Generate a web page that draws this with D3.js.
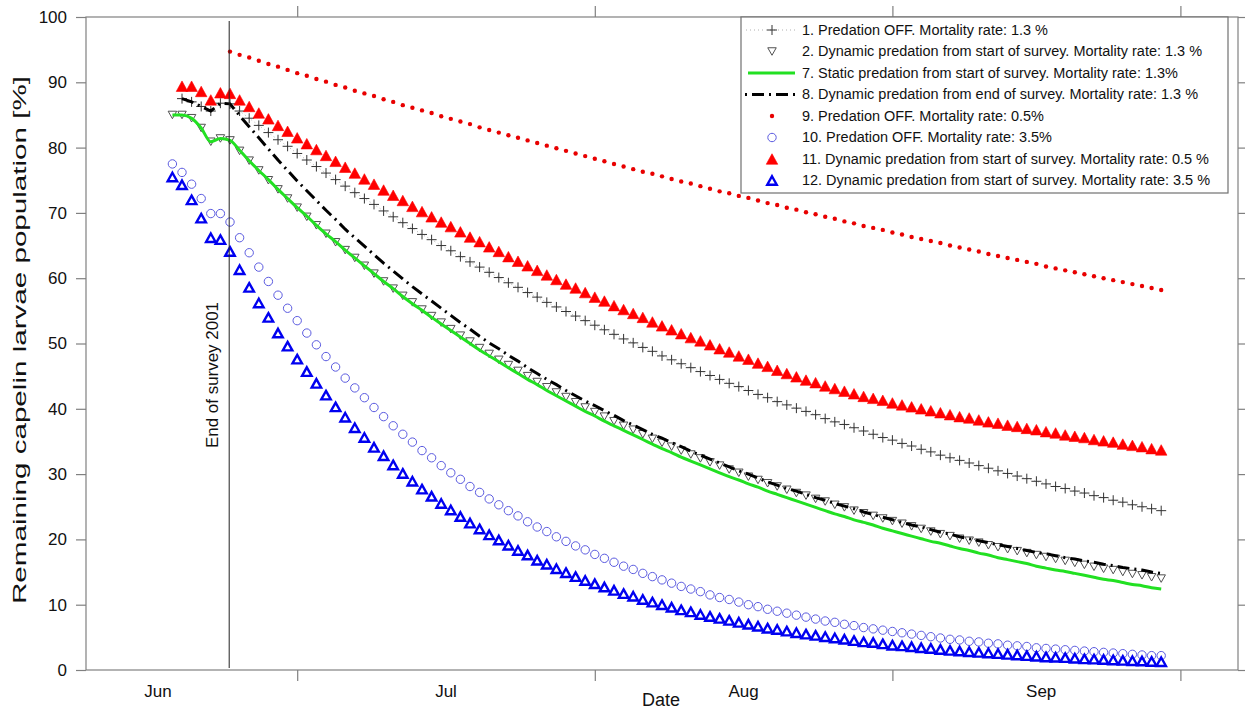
<!DOCTYPE html>
<html><head><meta charset="utf-8">
<script src="https://cdn.jsdelivr.net/npm/d3@7"></script>
<style>
body{margin:0;background:#fff}
svg{display:block}
text{font-family:"Liberation Sans",Arial,sans-serif;fill:#111}
</style>
</head><body>
<svg id="chart" width="1245" height="711"></svg>
<script>
// ---------------- DATA ----------------
const monthLabels = ["Jun", "Jul", "Aug", "Sep"];
const monthLabelDates = [Date.UTC(2001,5,16,12), Date.UTC(2001,6,16,12), Date.UTC(2001,7,16,12), Date.UTC(2001,8,16,12)];
const monthTickDates = [Date.UTC(2001,6,1), Date.UTC(2001,7,1), Date.UTC(2001,8,1), Date.UTC(2001,9,1)];
const yTickValues = [0,10,20,30,40,50,60,70,80,90,100];
const surveyEndDate = Date.UTC(2001,5,23,22);
const surveyEndLabel = "End of survey 2001";
const xTitle = "Date";
const yTitle = "Remaining capelin larvae population [%]";

const legendLabels = [
  "1. Predation OFF. Mortality rate: 1.3 %",
  "2. Dynamic predation from start of survey. Mortality rate: 1.3 %",
  "7. Static predation from start of survey. Mortality rate: 1.3%",
  "8. Dynamic predation from end of survey. Mortality rate: 1.3 %",
  "9. Predation OFF. Mortality rate: 0.5%",
  "10. Predation OFF. Mortality rate: 3.5%",
  "11. Dynamic predation from start of survey. Mortality rate: 0.5 %",
  "12. Dynamic predation from start of survey. Mortality rate: 3.5 %"
];

// daily values; first value at the given start date
const s1Start = Date.UTC(2001,5,19);
const s1Values = [87.5,87.0,86.3,85.6,86.8,86.7,
85.6,84.5,83.4,82.3,81.2,80.2,79.1,78.1,77.1,76.1,
75.1,74.1,73.1,72.2,71.3,70.3,69.4,68.5,67.6,66.7,
65.9,65.0,64.2,63.3,62.5,61.7,60.9,60.1,59.3,58.6,
57.8,57.1,56.3,55.6,54.9,54.2,53.5,52.8,52.1,51.4,
50.7,50.1,49.4,48.8,48.1,47.5,46.9,46.3,45.7,45.1,
44.5,43.9,43.4,42.8,42.2,41.7,41.1,40.6,40.1,39.6,
39.1,38.5,38.0,37.6,37.1,36.6,36.1,35.6,35.2,34.7,
34.3,33.8,33.4,32.9,32.5,32.1,31.7,31.3,30.9,30.5,
30.1,29.7,29.3,28.9,28.5,28.1,27.8,27.4,27.1,26.7,
26.4,26.0,25.7,25.3,25.0,24.7,24.4];

const s2Start = Date.UTC(2001,5,18);
const s2Values = [85.0,85.0,84.5,83.0,80.9,81.4,81.1,
79.5,78.0,76.5,75.0,73.6,72.2,70.8,
69.4,68.1,66.8,65.5,64.3,63.1,61.9,60.7,59.5,58.4,
57.3,56.3,55.2,54.2,53.2,52.2,51.2,50.3,49.3,48.4,
47.5,46.7,45.8,45.0,44.1,43.3,42.5,41.8,41.0,40.2,
39.5,38.8,38.1,37.4,36.8,36.1,35.4,34.8,34.2,33.6,
33.0,32.4,31.8,31.3,30.7,30.2,29.6,29.1,28.6,28.1,
27.6,27.1,26.7,26.2,25.8,25.3,24.9,24.4,24.0,23.6,
23.2,22.8,22.4,22.0,21.6,21.2,20.8,20.5,20.1,19.8,
19.5,19.1,18.8,18.5,18.2,17.9,17.6,17.3,17.0,16.7,
16.4,16.1,15.8,15.5,15.3,15.0,14.7,14.5,14.2,14.0];

const s7Start = Date.UTC(2001,5,18);
const s7Values = [85.0,85.0,84.5,83.0,80.9,81.4,
81.1,79.6,78.0,76.5,75.1,73.6,72.2,70.8,69.5,68.1,
66.8,65.6,64.3,63.1,61.9,60.7,59.5,58.4,57.2,56.1,
55.1,54.0,53.0,52.0,51.0,50.0,49.0,48.1,47.2,46.3,
45.4,44.5,43.7,42.8,42.0,41.2,40.4,39.6,38.9,38.1,
37.4,36.7,36.0,35.3,34.6,33.9,33.3,32.6,32.0,31.4,
30.8,30.2,29.6,29.1,28.5,28.0,27.4,26.9,26.4,25.9,
25.4,24.9,24.4,23.9,23.5,23.0,22.6,22.2,21.7,21.3,
20.9,20.5,20.1,19.7,19.4,19.0,18.6,18.3,17.9,17.6,
17.2,16.9,16.6,16.3,15.9,15.6,15.3,15.1,14.8,14.5,
14.2,13.9,13.7,13.4,13.1,12.9,12.6,12.4];

const s8Start = Date.UTC(2001,5,19);
const s8Values = [87.5,87.0,86.3,85.6,86.8,
86.7,84.9,83.2,81.5,79.8,78.1,76.5,74.9,73.4,71.9,70.4,69.0,67.5,66.2,
64.9,63.6,62.3,61.1,59.9,58.7,57.6,56.5,55.4,54.3,53.2,52.2,51.1,50.1,49.2,48.2,47.3,46.3,45.4,44.5,43.7,42.8,
42.0,41.2,40.5,39.7,39.0,38.2,37.5,36.8,36.1,35.5,34.8,34.2,33.5,32.9,32.3,31.7,31.1,30.5,30.0,29.4,28.8,28.3,
27.8,27.4,26.9,26.4,26.0,25.5,25.1,24.7,24.2,
23.8,23.4,23.0,22.6,22.2,21.9,21.5,21.1,20.8,20.4,20.1,
19.8,19.5,19.2,18.9,18.6,18.3,18.0,17.8,17.5,17.2,17.0,16.7,16.5,16.2,16.0,15.7,15.5,15.3,15.0,14.8];

const s9Start = Date.UTC(2001,5,24);
const s9Values = [94.7,94.2,93.8,93.3,92.8,92.4,91.9,91.4,91.0,90.5,
90.1,89.6,89.2,88.7,88.3,87.9,87.4,87.0,86.5,86.1,
85.7,85.3,84.8,84.4,84.0,83.6,83.1,82.7,82.3,81.9,
81.5,81.1,80.7,80.3,79.9,79.5,79.1,78.7,78.3,77.9,
77.5,77.1,76.7,76.3,76.0,75.6,75.2,74.8,74.5,74.1,
73.7,73.3,73.0,72.6,72.3,71.9,71.5,71.2,70.8,70.5,
70.1,69.8,69.4,69.1,68.7,68.4,68.0,67.7,67.4,67.0,
66.7,66.3,66.0,65.7,65.4,65.0,64.7,64.4,64.1,63.7,
63.4,63.1,62.8,62.5,62.2,61.8,61.5,61.2,60.9,60.6,
60.3,60.0,59.7,59.4,59.1,58.8,58.5,58.2];

const s10Start = Date.UTC(2001,5,18);
const s10Values = [77.5,76.2,74.4,72.2,69.9,69.9,
68.6,66.2,63.9,61.7,59.5,57.4,55.4,53.5,51.6,49.8,
48.0,46.4,44.7,43.2,41.7,40.2,38.8,37.4,36.1,34.9,
33.6,32.5,31.3,30.2,29.2,28.1,27.2,26.2,25.3,24.4,
23.6,22.7,21.9,21.2,20.4,19.7,19.0,18.4,17.7,17.1,
16.5,15.9,15.4,14.8,14.3,13.8,13.3,12.8,12.4,12.0,
11.5,11.1,10.8,10.4,10.0,9.7,9.3,9.0,8.7,8.4,
8.1,7.8,7.5,7.3,7.0,6.8,6.5,6.3,6.1,5.9,
5.7,5.5,5.3,5.1,4.9,4.7,4.6,4.4,4.3,4.1,
4.0,3.8,3.7,3.6,3.4,3.3,3.2,3.1,3.0,2.9,
2.8,2.7,2.6,2.5,2.4,2.3,2.2,2.2];

const s11Start = Date.UTC(2001,5,19);
const s11Values = [89.4,89.4,88.6,87.3,88.4,88.3,
87.3,86.3,85.3,84.4,83.4,82.5,81.5,80.6,79.7,78.8,77.9,77.0,76.1,
75.2,74.4,73.5,72.7,71.9,71.0,70.2,69.4,68.6,
67.9,67.1,66.3,65.6,64.8,64.1,63.3,62.6,61.9,61.2,60.5,59.8,59.1,
58.5,57.8,57.1,56.5,55.8,55.2,54.6,54.0,53.3,
52.7,52.1,51.5,50.9,50.4,49.8,49.2,48.7,48.1,47.6,47.0,46.5,45.9,
45.4,44.9,44.4,44.0,43.5,43.1,42.7,42.3,41.9,
41.6,41.3,40.9,40.6,40.3,40.0,39.7,39.4,39.1,38.8,38.6,38.3,38.0,
37.8,37.5,37.3,37.0,36.8,36.5,36.3,36.0,35.8,35.6,35.3,35.1,34.9,34.6,34.4,34.2,33.9,33.7];

const s12Start = Date.UTC(2001,5,18);
const s12Values = [75.5,74.3,72.0,69.2,66.2,65.9,64.1,61.3,58.6,56.2,
54.0,51.6,49.6,47.6,45.7,43.9,42.1,40.3,38.7,37.1,
35.6,34.1,32.8,31.4,30.1,28.9,27.7,26.6,25.5,
24.5,23.5,22.5,21.6,20.7,19.9,19.1,18.3,17.6,16.8,16.2,15.5,14.9,
14.3,13.7,13.2,12.7,12.2,11.7,11.3,10.8,10.4,
10.0,9.6,9.2,8.9,8.5,8.2,7.9,7.6,7.3,7.0,6.7,6.4,6.2,
5.95,5.7,5.5,5.3,5.1,4.9,4.7,4.5,4.3,
4.2,4.0,3.8,3.7,3.55,3.4,3.3,3.15,3.0,2.9,2.8,2.7,2.6,
2.5,2.4,2.3,2.2,2.1,2.0,1.95,1.9,1.8,1.7,1.67,1.6,1.54,1.48,1.42,1.37,1.31,1.26];

// ---------------- CHART ----------------
const svg = d3.select("#chart");
const L = 86, R = 1238, T = 17, B = 670;
const x = d3.scaleUtc().domain([Date.UTC(2001,5,9), Date.UTC(2001,9,7)]).range([L, R]);
const y = d3.scaleLinear().domain([0, 100]).range([B, T]);
const axisColor = "#808080";

function toPoints(start, values) {
  return values.map((v, i) => ({ date: d3.utcDay.offset(new Date(start), i), v }));
}
const S1 = toPoints(s1Start, s1Values), S2 = toPoints(s2Start, s2Values),
      S7 = toPoints(s7Start, s7Values), S8 = toPoints(s8Start, s8Values),
      S9 = toPoints(s9Start, s9Values), S10 = toPoints(s10Start, s10Values),
      S11 = toPoints(s11Start, s11Values), S12 = toPoints(s12Start, s12Values);

// frame & axes
svg.append("rect").attr("x", L).attr("y", T).attr("width", R - L).attr("height", B - T)
  .attr("fill", "none").attr("stroke", axisColor).attr("stroke-width", 1.2);

function styleAxis(g) {
  g.select(".domain").remove();
  g.selectAll(".tick line").attr("stroke", axisColor).attr("stroke-width", 1.2);
  g.selectAll(".tick text").attr("fill", "#111").style("font-size", "17px")
    .style("font-family", '"Liberation Sans",Arial,sans-serif');
}
svg.append("g").attr("transform", `translate(0,${B})`)
  .call(d3.axisBottom(x).tickValues(monthTickDates.map(d => new Date(d))).tickFormat("").tickSize(11)).call(styleAxis);
svg.append("g").attr("transform", `translate(0,${T})`)
  .call(d3.axisTop(x).tickValues(monthTickDates.map(d => new Date(d))).tickFormat("").tickSize(11)).call(styleAxis);
svg.append("g").attr("transform", `translate(${L},0)`)
  .call(d3.axisLeft(y).tickValues(yTickValues).tickSize(10).tickPadding(9)).call(styleAxis);
svg.append("g").attr("transform", `translate(${R},0)`)
  .call(d3.axisRight(y).tickValues(yTickValues).tickSize(10).tickFormat("")).call(styleAxis);

// month labels
svg.append("g").selectAll("text").data(monthLabels).join("text")
  .attr("x", (d, i) => x(new Date(monthLabelDates[i]))).attr("y", 697)
  .attr("text-anchor", "middle").style("font-size", "17px").text(d => d);

// axis titles
svg.append("text").attr("x", 661).attr("y", 706).attr("text-anchor", "middle")
  .style("font-size", "18px").text(xTitle);
const yt = svg.append("text").attr("transform", "translate(26,340) rotate(-90)")
  .attr("text-anchor", "middle").style("font-size", "18px").text(yTitle);
yt.attr("textLength", 528).attr("lengthAdjust", "spacingAndGlyphs");

// shape helpers
const triUp = (w, h) => `M0,${-h/2}L${w/2},${h/2}L${-w/2},${h/2}Z`;
const triDown = (w, h) => `M0,${h/2}L${w/2},${-h/2}L${-w/2},${-h/2}Z`;
const plus = (a) => `M${-a},0H${a}M0,${-a}V${a}`;

const plot = svg.append("g");
const line = d3.line().x(d => x(d.date)).y(d => y(d.v));

const styles = {
  s1Line: { stroke: "#b0b0b0", width: 1, dash: "1,3" },
  s1Mark: { stroke: "#333", width: 1 },
  s2Mark: { stroke: "#505050", width: 1 },
  s7Line: { stroke: "#22e022", width: 3 },
  s8Line: { stroke: "#000", width: 3, dash: "12,5,2,5" },
  s9Mark: { fill: "#e80000" },
  s10Mark: { stroke: "#5b5be0", width: 1 },
  s11Mark: { fill: "#ff0000" },
  s12Mark: { stroke: "#0000f0", width: 2.4 }
};

// 1
plot.append("path").datum(S1).attr("d", line).attr("fill", "none")
  .attr("stroke", styles.s1Line.stroke).attr("stroke-width", 1).attr("stroke-dasharray", styles.s1Line.dash);
plot.append("g").selectAll("path").data(S1).join("path")
  .attr("transform", d => `translate(${x(d.date)},${y(d.v)})`).attr("d", plus(5))
  .attr("stroke", styles.s1Mark.stroke).attr("stroke-width", 1).attr("fill", "none");
// 2
plot.append("g").selectAll("path").data(S2).join("path")
  .attr("transform", d => `translate(${x(d.date)},${y(d.v)})`).attr("d", triDown(8.5, 7.5))
  .attr("stroke", styles.s2Mark.stroke).attr("stroke-width", 1).attr("fill", "none");
// 7
plot.append("path").datum(S7).attr("d", line.curve(d3.curveMonotoneX)).attr("fill", "none")
  .attr("stroke", styles.s7Line.stroke).attr("stroke-width", 3).attr("stroke-linejoin", "round");
line.curve(d3.curveLinear);
// 8
plot.append("path").datum(S8).attr("d", line).attr("fill", "none")
  .attr("stroke", styles.s8Line.stroke).attr("stroke-width", 3).attr("stroke-dasharray", styles.s8Line.dash);
// 9
plot.append("g").selectAll("circle").data(S9).join("circle")
  .attr("cx", d => x(d.date)).attr("cy", d => y(d.v)).attr("r", 2.2).attr("fill", styles.s9Mark.fill);
// 10
plot.append("g").selectAll("circle").data(S10).join("circle")
  .attr("cx", d => x(d.date)).attr("cy", d => y(d.v)).attr("r", 4.2)
  .attr("fill", "none").attr("stroke", styles.s10Mark.stroke).attr("stroke-width", 1);
// 11
plot.append("g").selectAll("path").data(S11).join("path")
  .attr("transform", d => `translate(${x(d.date)},${y(d.v)})`).attr("d", triUp(11.5, 10.5))
  .attr("fill", styles.s11Mark.fill).attr("stroke", styles.s11Mark.fill).attr("stroke-width", 0.6);
// 12
plot.append("g").selectAll("path").data(S12).join("path")
  .attr("transform", d => `translate(${x(d.date)},${y(d.v)})`).attr("d", triUp(9.5, 8.5))
  .attr("fill", "none").attr("stroke", styles.s12Mark.stroke).attr("stroke-width", 2.4)
  .attr("stroke-linejoin", "miter");

// end of survey line
const xs = x(new Date(surveyEndDate));
svg.append("line").attr("x1", xs).attr("x2", xs).attr("y1", 21).attr("y2", 668)
  .attr("stroke", "#222").attr("stroke-width", 1);
svg.append("text").attr("transform", `translate(${xs - 11},375) rotate(-90)`)
  .attr("text-anchor", "middle").style("font-size", "16px")
  .attr("textLength", 146).attr("lengthAdjust", "spacingAndGlyphs").text(surveyEndLabel);

// legend
const lg = svg.append("g");
lg.append("rect").attr("x", 741).attr("y", 17).attr("width", 487).attr("height", 176)
  .attr("fill", "#fff").attr("stroke", "#707070").attr("stroke-width", 1.2);
const rowY = i => 30 + i * 21.5;
const mx = 772, lx1 = 746, lx2 = 796, tx = 802;
const texts = lg.selectAll("text.lab").data(legendLabels).join("text").attr("class", "lab")
  .attr("x", tx).attr("y", (d, i) => rowY(i)).attr("dy", "0.35em")
  .style("font-size", "14px").text(d => d);
// fit widths to reference (longest row ~400px)
const w2 = texts.nodes()[1].getComputedTextLength();
const k = 400 / w2;
texts.each(function () {
  const w = this.getComputedTextLength();
  d3.select(this).attr("textLength", w * k).attr("lengthAdjust", "spacingAndGlyphs");
});
// row samples
lg.append("line").attr("x1", lx1).attr("x2", lx2).attr("y1", rowY(0)).attr("y2", rowY(0))
  .attr("stroke", styles.s1Line.stroke).attr("stroke-dasharray", styles.s1Line.dash);
lg.append("path").attr("transform", `translate(${mx},${rowY(0)})`).attr("d", plus(5))
  .attr("stroke", styles.s1Mark.stroke).attr("fill", "none");
lg.append("path").attr("transform", `translate(${mx},${rowY(1)})`).attr("d", triDown(8.5, 7.5))
  .attr("stroke", styles.s2Mark.stroke).attr("fill", "none");
lg.append("line").attr("x1", lx1 + 2).attr("x2", lx2 - 1).attr("y1", rowY(2)).attr("y2", rowY(2))
  .attr("stroke", styles.s7Line.stroke).attr("stroke-width", 3);
lg.append("line").attr("x1", lx1 - 1).attr("x2", lx2).attr("y1", rowY(3)).attr("y2", rowY(3))
  .attr("stroke", "#000").attr("stroke-width", 3).attr("stroke-dasharray", "2,5,12,5");
lg.append("circle").attr("cx", mx).attr("cy", rowY(4)).attr("r", 2.2).attr("fill", styles.s9Mark.fill);
lg.append("circle").attr("cx", mx).attr("cy", rowY(5)).attr("r", 4.2).attr("fill", "none")
  .attr("stroke", styles.s10Mark.stroke);
lg.append("path").attr("transform", `translate(${mx},${rowY(6)})`).attr("d", triUp(11.5, 10.5))
  .attr("fill", styles.s11Mark.fill).attr("stroke", styles.s11Mark.fill).attr("stroke-width", 0.6);
lg.append("path").attr("transform", `translate(${mx},${rowY(7)})`).attr("d", triUp(9.5, 8.5))
  .attr("fill", "none").attr("stroke", styles.s12Mark.stroke).attr("stroke-width", 2.4);
</script>
</body></html>
